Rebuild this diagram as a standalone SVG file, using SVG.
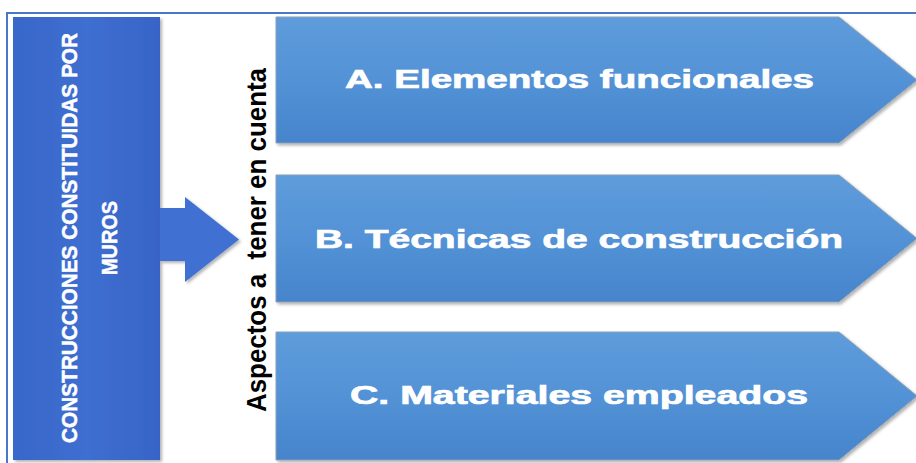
<svg xmlns="http://www.w3.org/2000/svg" width="916" height="463" viewBox="0 0 916 463">
  <style>
    .chev { fill: url(#chevGrad); stroke: #8b9fb6; stroke-width: 1; filter: url(#shadow); }
    .chevText { font-family: "Liberation Sans", Arial, sans-serif; font-weight: bold; font-size: 25px; fill: #ffffff; stroke: #ffffff; stroke-width: 0.7; }
    .leftText { font-family: "Liberation Sans", Arial, sans-serif; font-weight: bold; font-size: 22px; fill: #ffffff; stroke: #ffffff; stroke-width: 0.5; }
    .sideText { font-family: "Liberation Sans", Arial, sans-serif; font-weight: bold; font-size: 27px; fill: #000000; white-space: pre; }
  </style>
  <defs>
    <linearGradient id="chevGrad" x1="0" y1="0" x2="0" y2="1">
      <stop offset="0" stop-color="#5e9cdb"/>
      <stop offset="0.5" stop-color="#5392d6"/>
      <stop offset="1" stop-color="#4684cc"/>
    </linearGradient>
    <linearGradient id="leftGrad" x1="0" y1="0" x2="1" y2="0">
      <stop offset="0" stop-color="#3867c9"/>
      <stop offset="0.5" stop-color="#3e6fd0"/>
      <stop offset="1" stop-color="#3764c6"/>
    </linearGradient>
    <filter id="shadow" x="-5%" y="-5%" width="115%" height="115%">
      <feDropShadow dx="2" dy="2" stdDeviation="1.5" flood-color="#000000" flood-opacity="0.3"/>
    </filter>
  </defs>

  <rect x="0" y="0" width="916" height="463" fill="#ffffff"/>

  <!-- frame -->
  <path d="M7,463 L7,13 L916,13" fill="none" stroke="#4a78c8" stroke-width="2"/>

  <g id="node-construcciones">
    <rect x="13" y="17" width="147" height="443" fill="url(#leftGrad)" filter="url(#shadow)"/>
    <text class="leftText" transform="translate(77,238) rotate(-90)" text-anchor="middle" textLength="410" lengthAdjust="spacingAndGlyphs">CONSTRUCCIONES CONSTITUIDAS POR</text>
    <text class="leftText" transform="translate(117,238) rotate(-90)" text-anchor="middle" textLength="74" lengthAdjust="spacingAndGlyphs">MUROS</text>
  </g>

  <g id="connectors">
    <path d="M160,208 L185,208 L185,197 L239,239.5 L185,282 L185,261 L160,261 Z" fill="#3f70d1" filter="url(#shadow)"/>
  </g>

  <g id="label-aspectos">
    <text class="sideText" xml:space="preserve" transform="translate(266,240) rotate(-90)" text-anchor="middle" textLength="344" lengthAdjust="spacingAndGlyphs">Aspectos a  tener en cuenta</text>
  </g>

  <g id="node-a">
    <polygon class="chev" points="276,17 839,17 917,80 839,143 276,143"/>
    <text class="chevText" x="579.5" y="88" text-anchor="middle" textLength="469" lengthAdjust="spacingAndGlyphs">A. Elementos funcionales</text>
  </g>

  <g id="node-b">
    <polygon class="chev" points="276,175 839,175 917,238.5 839,302 276,302"/>
    <text class="chevText" x="579" y="248" text-anchor="middle" textLength="528" lengthAdjust="spacingAndGlyphs">B. Técnicas de construcción</text>
  </g>

  <g id="node-c">
    <polygon class="chev" points="276,332 839,332 917,396 839,460 276,460"/>
    <text class="chevText" x="579" y="404" text-anchor="middle" textLength="458" lengthAdjust="spacingAndGlyphs">C. Materiales empleados</text>
  </g>
</svg>
